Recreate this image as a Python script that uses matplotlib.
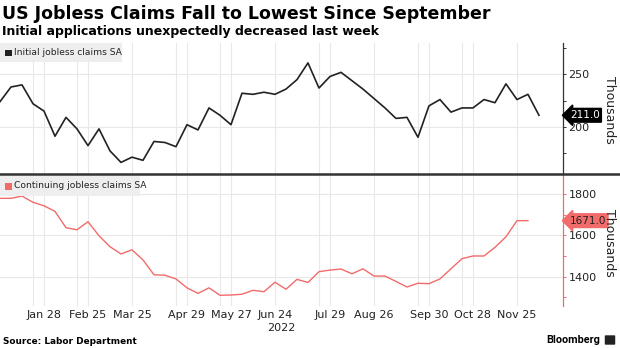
import matplotlib
matplotlib.use("Agg")
import matplotlib.pyplot as plt
import matplotlib.dates as mdates
import matplotlib.transforms as mtransforms
from matplotlib.lines import Line2D
from matplotlib.patches import FancyBboxPatch, Rectangle
import pandas as pd

plt.rcParams['font.family'] = ['DejaVu Sans']

# weekly readings, thousands
initial_claims = [224, 238, 240, 222, 215, 191, 209, 198, 182, 198,
                  177, 166, 171, 168, 186, 185, 181, 202, 197, 218,
                  211, 202, 232, 231, 233, 231, 236, 245, 261, 237,
                  248, 252, 244, 236, 227, 218, 208, 209, 190, 220,
                  226, 214, 218, 218, 226, 223, 241, 226, 231, 211]
continuing_claims = [1779, 1779, 1790, 1760, 1743, 1716, 1637, 1627, 1666, 1598,
                     1545, 1510, 1530, 1481, 1409, 1407, 1389, 1346, 1319, 1346,
                     1310, 1311, 1315, 1334, 1327, 1373, 1339, 1387, 1372, 1424,
                     1432, 1437, 1414, 1438, 1403, 1403, 1377, 1350, 1368, 1366,
                     1389, 1438, 1487, 1500, 1500, 1542, 1593, 1671, 1671]
tick_dates = ["2022-01-28", "2022-02-25", "2022-03-25", "2022-04-29", "2022-05-27",
              "2022-06-24", "2022-07-29", "2022-08-26", "2022-09-30", "2022-10-28",
              "2022-11-25"]
tick_labels = ["Jan 28", "Feb 25", "Mar 25", "Apr 29", "May 27", "Jun 24",
               "Jul 29", "Aug 26", "Sep 30", "Oct 28", "Nov 25"]
extra_grid_dates = ["2022-01-21", "2022-02-18", "2022-04-22", "2022-05-20",
                    "2022-07-22", "2022-09-23", "2022-10-21"]

dates_init = pd.date_range("2021-12-31", periods=len(initial_claims), freq="W-FRI")
dates_cont = dates_init[:len(continuing_claims)]
ticks = pd.to_datetime(tick_dates)
extra = pd.to_datetime(extra_grid_dates)

RED = "#f26b6b"
DARK = "#222222"
GRID = "#e8e8e8"
W, H = 620, 348

fig = plt.figure(figsize=(6.2, 3.48), dpi=100)
ax1 = fig.add_axes([0, 1 - 173.5 / H, 563 / W, (173.5 - 43) / H])
ax2 = fig.add_axes([0, 1 - 306 / H, 563 / W, (306 - 175) / H])

x0 = pd.Timestamp("2021-12-31")
x1 = x0 + pd.Timedelta(days=358.3)

for ax in (ax1, ax2):
    ax.set_xlim(x0, x1)
    for s in ("top", "left", "bottom"):
        ax.spines[s].set_visible(False)
    ax.yaxis.tick_right()
    ax.set_xticks(ticks)
    for d in list(ticks) + list(extra):
        ax.axvline(d, color=GRID, lw=0.8, zorder=0)
    ax.tick_params(axis="x", length=0, pad=3, labelsize=8, colors="#222222")
    ax.tick_params(axis="y", which="both", direction="out", length=2.5, width=0.7,
                   labelsize=8, pad=1.5, colors="#222222")

# top panel
ax1.plot(dates_init, initial_claims, color=DARK, lw=1.2)
ax1.set_ylim(155.4, 280)
ax1.set_yticks([200, 250])
ax1.set_yticks([175, 225, 275], minor=True)
for v in (200, 250):
    ax1.axhline(v, color=GRID, lw=0.8, zorder=0)
ax1.spines["right"].set_color("#333333")
ax1.spines["right"].set_linewidth(0.9)
ax1.tick_params(axis="y", which="both", color="#333333")
ax1.set_xticklabels([])

# bottom panel
ax2.plot(dates_cont, continuing_claims, color=RED, lw=1.0)
ax2.set_ylim(1258, 1892)
ax2.set_yticks([1400, 1600, 1800])
ax2.set_yticks([1300, 1500, 1700], minor=True)
for v in (1400, 1600, 1800):
    ax2.axhline(v, color=GRID, lw=0.8, zorder=0)
ax2.spines["right"].set_color(RED)
ax2.spines["right"].set_linewidth(0.9)
ax2.tick_params(axis="y", which="both", color=RED)
ax2.set_xticklabels(tick_labels)
ax2.annotate("2022", xy=(mdates.date2num(pd.Timestamp("2022-06-24")), 0),
             xycoords=mtransforms.blended_transform_factory(ax2.transData, ax2.transAxes),
             xytext=(4.5, -12.5), textcoords="offset points", ha="center", va="top",
             fontsize=8, color="#222222")

# y-axis titles
fig.text(609 / W, 1 - 110 / H, "Thousands", rotation=270, ha="center", va="center",
         fontsize=9, color="#222222")
fig.text(609 / W, 1 - 243 / H, "Thousands", rotation=270, ha="center", va="center",
         fontsize=9, color="#222222")

# last-value tags
tr1 = mtransforms.blended_transform_factory(ax1.transAxes, ax1.transData)
ax1.text(1.012, initial_claims[-1], "211.0", transform=tr1, ha="left", va="center",
         fontsize=7.5, color="white",
         bbox=dict(boxstyle="larrow,pad=0.18", fc="black", ec="black"))
tr2 = mtransforms.blended_transform_factory(ax2.transAxes, ax2.transData)
ax2.text(1.012, continuing_claims[-1], "1671.0", transform=tr2, ha="left", va="center",
         fontsize=7.5, color="#222222",
         bbox=dict(boxstyle="larrow,pad=0.18", fc=RED, ec=RED))

# legends
legends = [("Initial jobless claims SA", DARK, 43, 62, 122),
           ("Continuing jobless claims SA", RED, 176, 196, 140)]
for label, col, ytop, ybot, width in legends:
    fig.add_artist(Rectangle((0, 1 - ybot / H), width / W, (ybot - ytop) / H,
                             fc="#eeeeee", ec="none", transform=fig.transFigure))
    yc = (ytop + ybot) / 2
    fig.add_artist(Rectangle((5 / W, 1 - (yc + 3.5) / H), 6.5 / W, 6.5 / H,
                             fc=col, ec="none", transform=fig.transFigure))
    fig.text(14 / W, 1 - yc / H, label, ha="left", va="center", fontsize=6.6,
             color="#222222")

# panel separator
fig.add_artist(Line2D([0, 1], [1 - 173.5 / H] * 2, color="#333333", lw=1.8,
                      transform=fig.transFigure))

# titles and footer
fig.text(2 / W, 1 - 14 / H, "US Jobless Claims Fall to Lowest Since September",
         ha="left", va="center", fontsize=12.5, fontweight="bold", color="black")
fig.text(2 / W, 1 - 31 / H, "Initial applications unexpectedly decreased last week",
         ha="left", va="center", fontsize=9.0, fontweight="bold", color="black")
fig.text(3 / W, 1 - 341 / H, "Source: Labor Department", ha="left", va="center",
         fontsize=6.4, fontweight="bold", color="black")
fig.text(600 / W, 1 - 340 / H, "Bloomberg", ha="right", va="center",
         fontsize=7.8, fontweight="bold", color="black", family=["Roboto", "DejaVu Sans"])
fig.add_artist(FancyBboxPatch((606 / W, 1 - 344 / H), 8 / W, 8 / H,
                              boxstyle="round,pad=0.002", fc="#222222", ec="none",
                              transform=fig.transFigure))

fig.savefig("out.png", dpi=100)
